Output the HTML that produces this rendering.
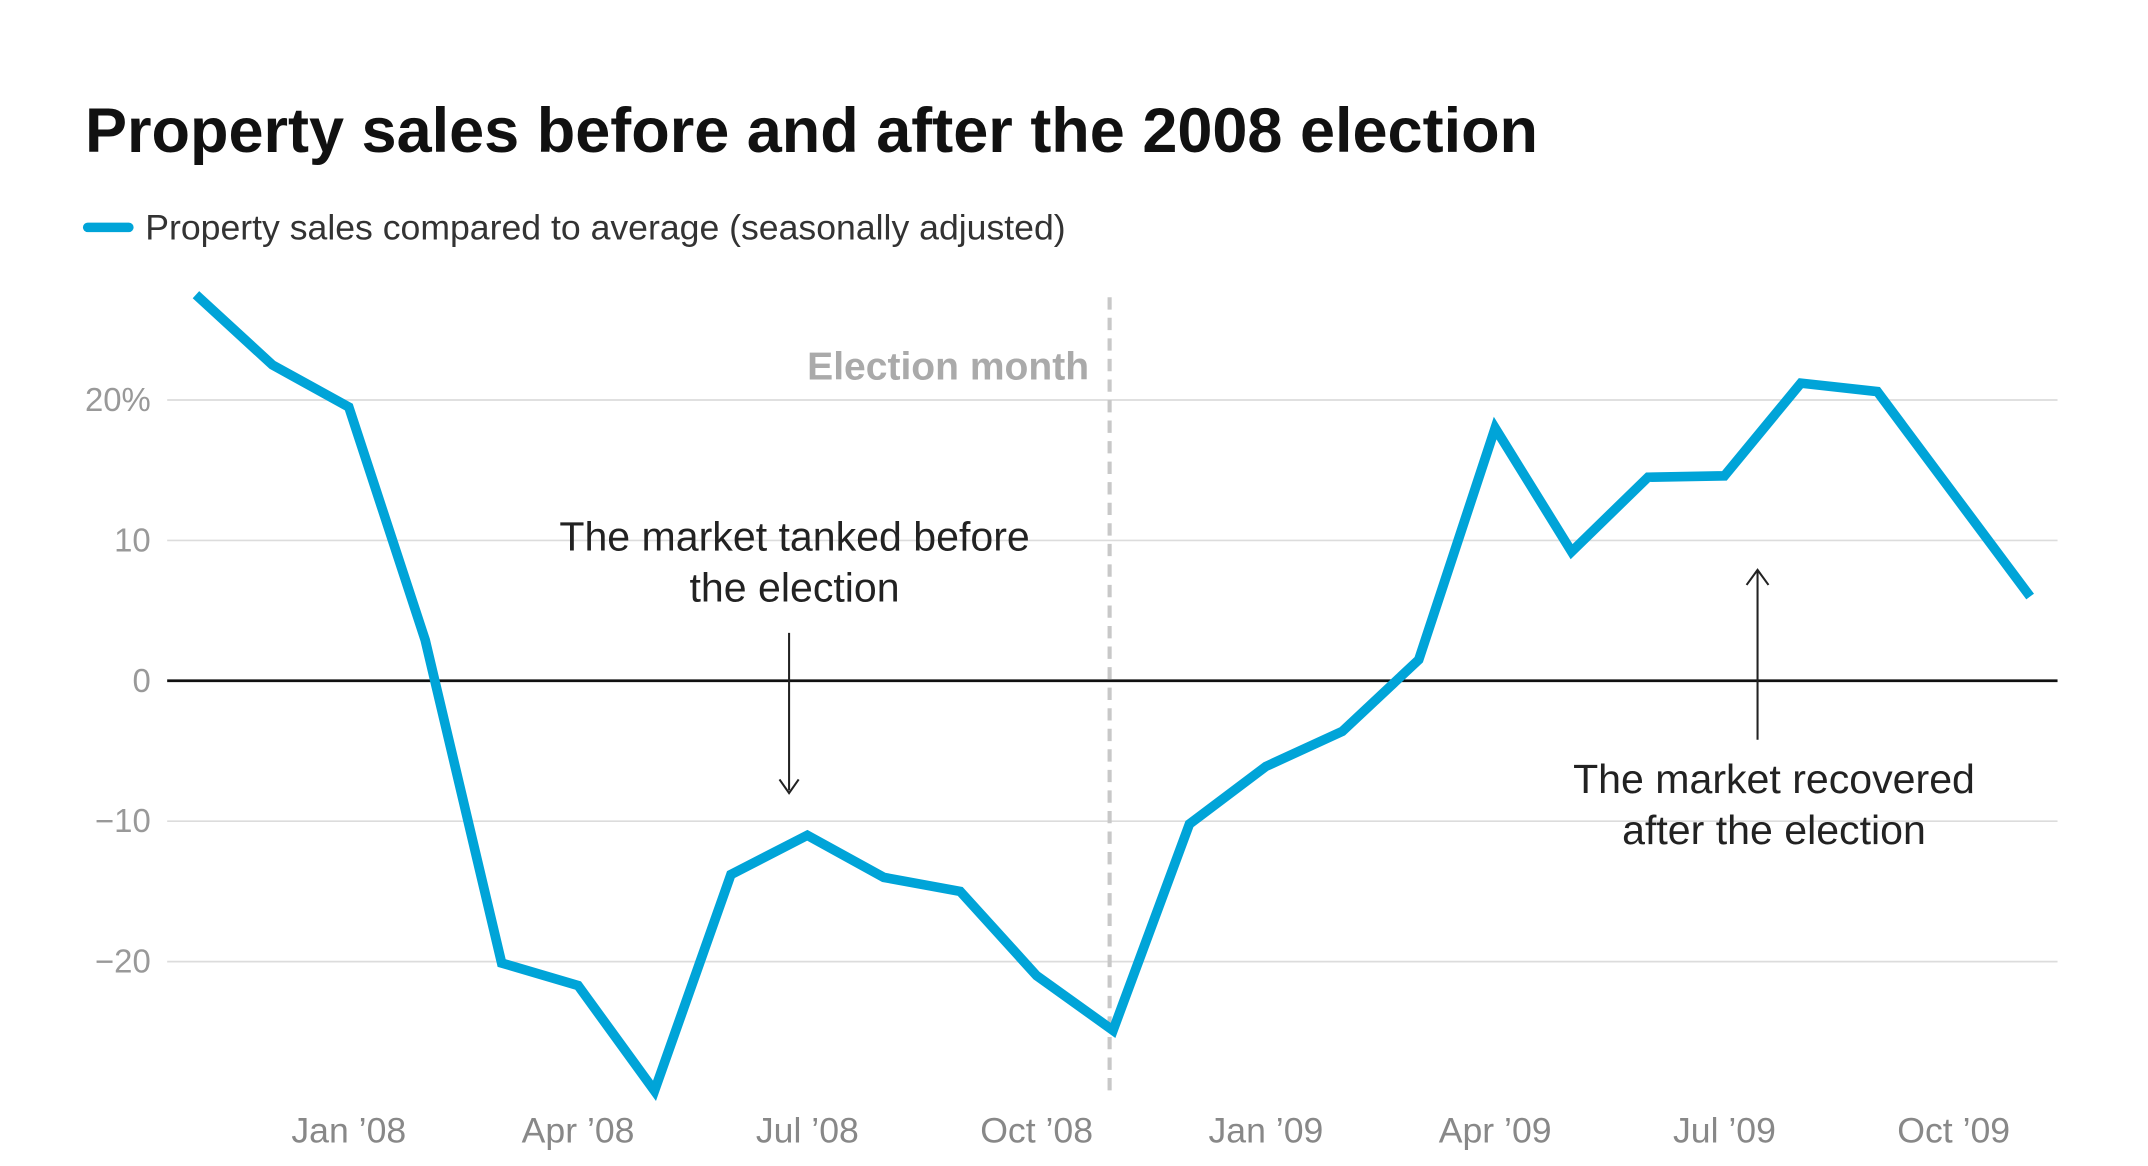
<!DOCTYPE html>
<html><head><meta charset="utf-8"><style>
html,body{margin:0;padding:0;background:#fff;}
svg{display:block;font-family:"Liberation Sans",sans-serif;}
</style></head><body>
<svg id="chart" width="2148" height="1166" viewBox="0 0 1568 851.2" xmlns="http://www.w3.org/2000/svg">
<text x="62" y="111" font-size="46" font-weight="bold" fill="#111">Property sales before and after the 2008 election</text>
<g>
<line x1="64" y1="166" x2="94" y2="166" stroke="#00a4d8" stroke-width="7" stroke-linecap="round"/>
<text x="106" y="175" font-size="26" fill="#333">Property sales compared to average (seasonally adjusted)</text>
</g>
<g id="grid"></g>
<g id="yticks"></g>
<g id="xticks"></g>
<line x1="810" y1="217" x2="810" y2="797" stroke="#c8c8c8" stroke-width="3" stroke-dasharray="9,6"/>
<text x="795" y="277" text-anchor="end" font-size="28.5" font-weight="bold" fill="#aaa">Election month</text>
<g>
<text x="580" y="402" text-anchor="middle" font-size="30" fill="#222">The market tanked before</text>
<text x="580" y="439" text-anchor="middle" font-size="30" fill="#222">the election</text>
<line x1="576" y1="462" x2="576" y2="577" stroke="#222" stroke-width="1.5"/>
<path d="M569 569 L576 579 L583 569" fill="none" stroke="#222" stroke-width="1.5"/>
</g>
<g>
<text x="1295" y="579" text-anchor="middle" font-size="30" fill="#222">The market recovered</text>
<text x="1295" y="616" text-anchor="middle" font-size="30" fill="#222">after the election</text>
<line x1="1283" y1="540" x2="1283" y2="417" stroke="#222" stroke-width="1.5"/>
<path d="M1275 427 L1283 416 L1291 427" fill="none" stroke="#222" stroke-width="1.5"/>
</g>
<g id="series"></g>
</svg>
<script>
const months = ["Nov '07","Dec '07","Jan '08","Feb '08","Mar '08","Apr '08","May '08","Jun '08","Jul '08","Aug '08","Sep '08","Oct '08","Nov '08","Dec '08","Jan '09","Feb '09","Mar '09","Apr '09","May '09","Jun '09","Jul '09","Aug '09","Sep '09","Oct '09","Nov '09"];
const salesValues = [27.5,22.5,19.5,2.9,-20.1,-21.7,-29.2,-13.8,-11,-14,-15,-21,-24.9,-10.2,-6.1,-3.6,1.5,18,9.2,14.5,14.6,21.2,20.6,13.3,6];
const yTickValues = [20,10,0,-10,-20];
const yTickLabels = ["20%","10","0","\u221210","\u221220"];
const xTickLabels = ["Jan \u201908","Apr \u201908","Jul \u201908","Oct \u201908","Jan \u201909","Apr \u201909","Jul \u201909","Oct \u201909"];
const xTickIndex = [2,5,8,11,14,17,20,23];

const NS="http://www.w3.org/2000/svg";
const xScale = i => 143 + i*(1482-143)/(months.length-1);
const yScale = v => 497 - v*10.25;
function mk(tag, attrs, parent){const e=document.createElementNS(NS,tag);for(const k in attrs)e.setAttribute(k,attrs[k]);parent.appendChild(e);return e;}
const grid=document.getElementById('grid'), yt=document.getElementById('yticks'), xt=document.getElementById('xticks'), ser=document.getElementById('series');
yTickValues.forEach((v,i)=>{
  const ln=mk('line',{x1:122,x2:1502,y1:yScale(v),y2:yScale(v),stroke:v===0?'#111':'#dcdcdc','stroke-width':v===0?2:1.2},grid);
  
  
  const t=mk('text',{x:110,y:yScale(v)+8,'text-anchor':'end','font-size':24,fill:'#999'},yt);
  t.textContent=yTickLabels[i];
  
  
});
xTickLabels.forEach((l,i)=>{
  const t=mk('text',{x:xScale(xTickIndex[i]),y:834,'text-anchor':'middle','font-size':26,fill:'#888'},xt);
  t.textContent=l;
  
  
});
const d=salesValues.map((v,i)=>(i?'L':'M')+xScale(i)+' '+yScale(v)).join(' ');
const p=mk('path',{d:d,fill:'none',stroke:'#00a4d8','stroke-width':7,'stroke-linejoin':'miter','stroke-linecap':'butt'},ser);


</script>
</body></html>
